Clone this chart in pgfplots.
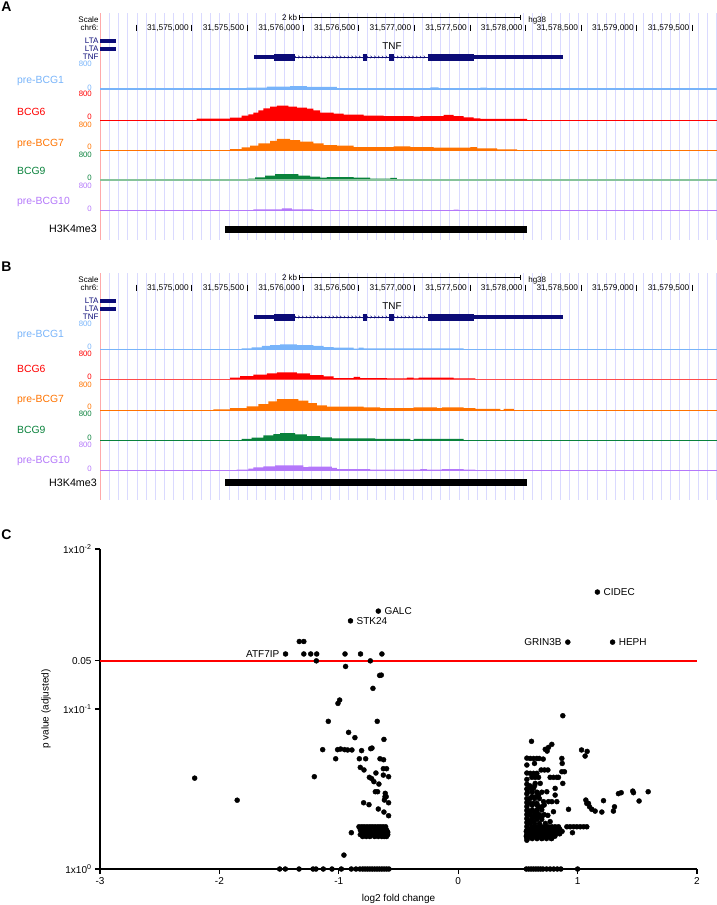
\documentclass[border=0pt]{standalone}
\usepackage{fontspec}
\setmainfont{Liberation Sans}
\usepackage{pgfplots}
\usepackage{pgfplotstable}
\pgfplotsset{compat=1.18}
\usetikzlibrary{decorations.markings}
\newcommand\fs[1]{\fontsize{#1}{#1}\selectfont}

\definecolor{cpre1}{RGB}{120,180,250}
\definecolor{cbcg6}{RGB}{255,0,0}
\definecolor{cpre7}{RGB}{255,115,0}
\definecolor{cbcg9}{RGB}{10,130,60}
\definecolor{cbcg9l}{RGB}{135,195,155}
\definecolor{cpre10}{RGB}{180,120,250}
\definecolor{navy}{RGB}{12,12,120}
\definecolor{guide}{RGB}{218,218,255}
\definecolor{lborder}{RGB}{255,170,170}
\tikzset{lbl/.style={anchor=east, font=\fs{8.3}, inner sep=0pt, xshift=-2.8pt}}

% ---------- panel A signal (bin start in bp - 31,570,000 ; value) ----------
\pgfplotstableread{
x v
5495 49
5675 77
5885 94
6035 66
6305 37
7145 57
7220 37
7595 49
7655 0
}\ApreA
\pgfplotstableread{
x v
5045 37
5345 66
5450 123
5510 163
5555 209
5600 277
5645 334
5705 380
5765 409
5870 380
5945 351
6035 323
6095 277
6155 209
6275 180
6365 151
6545 123
6725 114
6995 94
7055 114
7265 143
7355 114
7445 77
7535 49
7595 29
8015 0
}\AbcgB
\pgfplotstableread{
x v
5345 37
5450 86
5525 134
5600 200
5705 266
5765 323
5885 294
5975 249
6095 200
6185 151
6305 134
6455 94
6815 114
6965 94
7175 77
7505 94
7565 57
7745 29
7925 0
}\ApreC
\pgfplotstableread{
x v
5405 29
5510 49
5570 86
5660 134
5750 180
5960 134
6065 106
6155 77
6215 94
6455 77
6605 49
6785 66
6845 37
7205 20
7295 37
7355 20
7550 0
}\AbcgD
\pgfplotstableread{
x v
5555 37
5810 66
5900 37
6095 20
6695 0
6845 20
7295 0
7355 29
7400 0
}\ApreE
% ---------- panel B signal ----------
\pgfplotstableread{
x v
5450 20
5540 49
5630 86
5705 114
5795 134
5945 114
6095 86
6185 57
6275 37
6455 9
6500 37
6545 20
7445 0
}\BpreA
\pgfplotstableread{
x v
5345 49
5435 94
5555 134
5675 171
5765 200
5945 171
6065 123
6185 86
6275 37
6455 66
6515 37
6755 29
6935 49
6995 29
7040 49
7355 29
7550 0
}\BbcgB
\pgfplotstableread{
x v
5195 20
5345 57
5495 106
5600 171
5690 249
5765 314
5960 266
6050 200
6125 134
6215 94
6545 77
6695 57
6995 77
7205 57
7250 77
7445 57
7550 29
7775 0
7805 29
7895 0
}\BpreC
\pgfplotstableread{
x v
5450 29
5540 66
5645 134
5735 171
5795 200
5930 163
6035 114
6155 77
6260 49
6650 29
6965 0
6995 29
7445 0
}\BbcgD
\pgfplotstableread{
x v
5405 20
5510 49
5555 86
5645 114
5750 143
6005 94
6050 106
6260 66
6305 37
6605 20
7055 37
7115 20
7250 37
7445 20
7550 0
}\BpreE

% ---------- panel C: log2 fold change, -log10(adjusted p) ----------
\pgfplotstableread{
x y
-2.207 0.568
-1.851 0.430
-1.446 1.344
-1.331 1.422
-1.293 1.422
-1.293 1.344
-1.235 1.344
-1.185 1.344
-0.948 1.344
-0.818 1.344
-0.639 1.344
-0.902 1.551
-0.669 1.612
-1.188 1.301
-0.736 1.301
-0.943 1.266
-0.658 1.210
-0.644 1.212
-0.714 1.129
-0.993 1.056
-1.007 1.035
-1.088 0.923
-0.678 0.923
-0.918 0.854
-0.865 0.821
-0.622 0.810
-1.135 0.746
-1.010 0.746
-0.985 0.750
-0.951 0.746
-0.926 0.744
-0.890 0.744
-0.809 0.740
-0.733 0.752
-0.722 0.756
-1.026 0.689
-0.828 0.689
-0.775 0.689
-0.655 0.689
-0.625 0.683
-0.820 0.635
-0.789 0.619
-0.627 0.627
-0.600 0.627
-0.689 0.600
-0.627 0.587
-1.205 0.577
-0.744 0.573
-0.725 0.565
-0.583 0.577
-0.706 0.546
-0.664 0.531
-0.694 0.483
-0.675 0.483
-0.611 0.473
-0.613 0.452
-0.603 0.452
-0.618 0.431
-0.583 0.414
-0.792 0.414
-0.747 0.402
-0.669 0.375
-0.622 0.356
-0.583 0.333
-0.831 0.264
-0.809 0.264
-0.787 0.264
-0.764 0.264
-0.742 0.264
-0.720 0.264
-0.698 0.264
-0.675 0.264
-0.653 0.264
-0.631 0.264
-0.608 0.264
-0.82 0.245
-0.80 0.245
-0.77 0.245
-0.74 0.245
-0.70 0.245
-0.66 0.245
-0.63 0.245
-0.60 0.245
-0.81 0.230
-0.79 0.230
-0.76 0.230
-0.73 0.230
-0.69 0.230
-0.67 0.230
-0.65 0.230
-0.62 0.230
-0.59 0.230
-0.82 0.215
-0.80 0.215
-0.78 0.215
-0.75 0.215
-0.72 0.215
-0.68 0.215
-0.66 0.215
-0.64 0.215
-0.61 0.215
-0.59 0.215
-0.80 0.203
-0.77 0.203
-0.74 0.203
-0.70 0.203
-0.67 0.203
-0.64 0.203
-0.62 0.203
-0.60 0.203
-0.895 0.227
-0.957 0.087
-1.495 0
-1.448 0
-1.333 0
-1.216 0
-1.191 0
-1.130 0
-1.057 0
-0.979 0
-0.895 0
-0.856 0
-0.823 0
-0.80 0
-0.78 0
-0.76 0
-0.74 0
-0.72 0
-0.70 0
-0.68 0
-0.66 0
-0.64 0
-0.62 0
-0.60 0
-0.58 0
1.166 1.731
0.918 1.418
1.293 1.418
0.876 0.958
0.614 0.798
0.784 0.779
0.756 0.760
0.729 0.748
0.745 0.737
1.033 0.744
1.080 0.735
1.063 0.706
0.868 0.691
0.871 0.660
0.603 0.691
0.631 0.691
0.659 0.691
0.678 0.691
0.712 0.687
0.639 0.660
0.695 0.619
0.723 0.619
0.751 0.619
0.868 0.608
0.890 0.608
0.603 0.598
0.631 0.598
0.659 0.598
0.617 0.573
0.645 0.573
0.673 0.573
0.770 0.573
0.798 0.573
0.826 0.573
0.840 0.573
0.876 0.535
0.645 0.535
0.687 0.535
0.603 0.504
0.631 0.504
0.812 0.504
0.742 0.483
1.342 0.471
1.365 0.477
1.462 0.487
1.468 0.477
1.591 0.483
0.673 0.462
0.812 0.462
0.617 0.452
0.650 0.452
1.069 0.431
1.217 0.427
1.515 0.425
0.715 0.421
0.756 0.421
0.784 0.421
0.826 0.421
1.077 0.410
1.091 0.410
0.603 0.410
0.631 0.410
0.659 0.410
1.100 0.389
1.309 0.389
0.673 0.389
0.701 0.389
0.924 0.373
1.119 0.373
1.147 0.362
1.300 0.362
1.203 0.356
0.798 0.358
0.603 0.358
0.631 0.358
0.659 0.358
0.751 0.335
0.617 0.327
0.645 0.327
0.673 0.327
0.701 0.327
0.770 0.296
0.603 0.296
0.631 0.296
0.617 0.264
0.645 0.264
0.673 0.264
0.701 0.264
0.729 0.264
0.756 0.264
0.784 0.264
0.812 0.264
0.840 0.264
0.910 0.264
0.938 0.264
0.966 0.264
0.994 0.264
1.022 0.264
1.050 0.264
1.077 0.264
0.957 0.227
0.701 0.192
0.784 0.192
0.575 0.693
0.575 0.650
0.575 0.600
0.575 0.560
0.575 0.530
0.575 0.500
0.575 0.470
0.575 0.440
0.575 0.415
0.575 0.390
0.575 0.365
0.575 0.340
0.575 0.315
0.575 0.290
0.575 0.265
0.575 0.240
0.575 0.215
0.575 0.195
0.575 0.180
0.58 0.250
0.61 0.250
0.64 0.250
0.67 0.250
0.70 0.250
0.73 0.250
0.76 0.250
0.79 0.250
0.82 0.250
0.85 0.250
0.57 0.235
0.60 0.235
0.63 0.235
0.66 0.235
0.69 0.235
0.72 0.235
0.75 0.235
0.78 0.235
0.81 0.235
0.84 0.235
0.87 0.235
0.58 0.220
0.61 0.220
0.64 0.220
0.67 0.220
0.70 0.220
0.73 0.220
0.76 0.220
0.79 0.220
0.82 0.220
0.85 0.220
0.57 0.205
0.60 0.205
0.63 0.205
0.66 0.205
0.69 0.205
0.72 0.205
0.75 0.205
0.78 0.205
0.81 0.205
0.58 0.190
0.62 0.190
0.66 0.190
0.70 0.190
0.74 0.190
0.78 0.190
0.60 0.520
0.64 0.520
0.58 0.480
0.62 0.480
0.66 0.480
0.70 0.480
0.60 0.440
0.64 0.440
0.68 0.440
0.62 0.400
0.66 0.400
0.72 0.400
0.58 0.370
0.62 0.370
0.66 0.370
0.70 0.370
0.60 0.340
0.64 0.340
0.68 0.340
0.72 0.340
0.58 0.310
0.62 0.310
0.66 0.310
0.70 0.310
0.60 0.285
0.64 0.285
0.68 0.285
0.73 0.285
0.57 0
0.59 0
0.61 0
0.63 0
0.65 0
0.67 0
0.69 0
0.71 0
0.74 0
0.77 0
0.80 0
0.83 0
0.86 0
1.00 0
}\volc

\pgfplotsset{
  trk/.style={anchor=south west, width=617pt, height=28pt, scale only axis,
    xmin=4176, xmax=9722, ymin=0, ymax=800, hide axis, clip=false},
}

% #1 baseline y, #2 colour, #3 label, #4 table, #5 label y, #6 "800" y, #7 "0" y, #8 baseline style
\newcommand\track[8]{%
  \begin{axis}[trk, at={(100pt,-#1pt)}]
    \addplot[const plot, fill=#2, draw=none] table[x=x,y=v] {#4} \closedcycle;
    \addplot[#8] coordinates {(4176,0) (9722,0)};
  \end{axis}
  \node[anchor=west, text=#2, font=\fs{10.4}, inner sep=0pt] at (17pt,-#5pt) {#3};
  \node[anchor=east, text=#2, font=\fs{7.8}, inner sep=0pt] at (92pt,-#6pt) {800};
  \node[anchor=east, text=#2, font=\fs{7.8}, inner sep=0pt] at (92pt,-#7pt) {0};
}

% #1 vertical offset of the panel, #2 panel letter, #3 y of the H3K4me3 row (panel-relative)
\newcommand\browserhead[3]{%
  \node[font=\fs{14}\bfseries, inner sep=0pt] at (6.5pt,{-(#1+6.7)*1pt}) {#2};
  \begin{axis}[at={(100pt,{-(#1+240)*1pt})}, anchor=south west, width=617pt, height=227pt,
      scale only axis, xmin=4176, xmax=9722, ymin=13, ymax=240, y dir=reverse,
      axis line style={draw=none}, xtick={4176,4258.7,...,9722}, xticklabels={},
      ytick=\empty, major tick length=0pt, xmajorgrids,
      grid style={guide, line width=0.6pt}, clip=false]
    \addplot[lborder, line width=0.8pt] coordinates {(4176,13) (4176,240)};
    % scale bar
    \addplot[black, line width=0.6pt] coordinates {(5965,17.3) (7954,17.3)};
    \addplot[black, line width=0.6pt] coordinates {(5965,14.6) (5965,20)};
    \addplot[black, line width=0.6pt] coordinates {(7954,14.6) (7954,20)};
    \node[anchor=east, font=\fs{8}, inner sep=0pt] at (axis cs:5950,17.3) {2 kb};
    \node[anchor=west, font=\fs{8}, inner sep=0pt] at (axis cs:8024,20.6) {hg38};
    \node[anchor=east, font=\fs{8}, inner sep=0pt] at (axis cs:4164,20) {Scale};
    \node[anchor=east, font=\fs{8}, inner sep=0pt] at (axis cs:4164,28) {chr6:};
    \pgfplotsinvokeforeach{4500,5000,...,9500}{\draw[black, line width=0.6pt] (axis cs:##1,24.5) -- (axis cs:##1,31);}
    \node[lbl] at (axis cs:5000,28) {31,575,000};
    \node[lbl] at (axis cs:5500,28) {31,575,500};
    \node[lbl] at (axis cs:6000,28) {31,576,000};
    \node[lbl] at (axis cs:6500,28) {31,576,500};
    \node[lbl] at (axis cs:7000,28) {31,577,000};
    \node[lbl] at (axis cs:7500,28) {31,577,500};
    \node[lbl] at (axis cs:8000,28) {31,578,000};
    \node[lbl] at (axis cs:8500,28) {31,578,500};
    \node[lbl] at (axis cs:9000,28) {31,579,000};
    \node[lbl] at (axis cs:9500,28) {31,579,500};
    % genes
    \addplot[navy, line width=4pt] coordinates {(4176,41) (4324,41)};
    \addplot[navy, line width=4pt] coordinates {(4176,49) (4324,49)};
    \node[anchor=east, text=navy, font=\fs{8}, inner sep=0pt] at (axis cs:4164,41) {LTA};
    \node[anchor=east, text=navy, font=\fs{8}, inner sep=0pt] at (axis cs:4164,49) {LTA};
    \node[anchor=east, text=navy, font=\fs{8}, inner sep=0pt] at (axis cs:4164,57) {TNF};
    \addplot[navy, line width=0.7pt, postaction={decorate},
      decoration={markings, mark=between positions 0.005 and 1 step 3.8pt with
        {\draw[navy, line width=0.5pt] (-0.9pt,1.3pt) -- (0.3pt,0pt) -- (-0.9pt,-1.3pt);}}]
      coordinates {(5926,57) (7122,57)};
    \addplot[navy, line width=4.5pt] coordinates {(5563,57) (5740,57)};
    \addplot[navy, line width=7pt] coordinates {(5740,57) (5926,57)};
    \addplot[navy, line width=7pt] coordinates {(6538,57) (6574,57)};
    \addplot[navy, line width=7pt] coordinates {(6774,57) (6819,57)};
    \addplot[navy, line width=7pt] coordinates {(7122,57) (7541,57)};
    \addplot[navy, line width=4.5pt] coordinates {(7541,57) (8336,57)};
    \node[font=\fs{9.9}, inner sep=0pt] at (axis cs:6801,45.7) {TNF};
    % H3K4me3
    \addplot[black, line width=7pt] coordinates {(5300,#3) (8015,#3)};
    \node[anchor=east, font=\fs{10.7}, inner sep=0pt] at (axis cs:4149,#3) {H3K4me3};
  \end{axis}
}

\begin{document}
\begin{tikzpicture}
\path[use as bounding box] (0,0) rectangle (717pt,-905pt);

% ================= Panel A =================
\browserhead{0}{A}{229}
\track{89.3}{cpre1}{pre-BCG1}{\ApreA}{80.7}{64.3}{87.7}{cpre1, line width=2.3pt}
\track{120}{cbcg6}{BCG6}{\AbcgB}{111.7}{94.3}{117.3}{cbcg6, line width=0.8pt}
\track{150.3}{cpre7}{pre-BCG7}{\ApreC}{144.3}{125}{147.3}{cpre7, line width=0.8pt}
\track{180.3}{cbcg9}{BCG9}{\AbcgD}{171}{155}{178}{cbcg9l, line width=1.8pt}
\track{210.7}{cpre10}{pre-BCG10}{\ApreE}{201.7}{186}{208.7}{cpre10, line width=0.8pt}

% ================= Panel B =================
\browserhead{260}{B}{222.4}
\track{349}{cpre1}{pre-BCG1}{\BpreA}{335.3}{324}{346.7}{cpre1, line width=0.8pt}
\track{379.3}{cbcg6}{BCG6}{\BbcgB}{369}{354.3}{376.7}{cbcg6!70, line width=1.2pt}
\track{410}{cpre7}{pre-BCG7}{\BpreC}{400}{385}{406.7}{cpre7, line width=0.8pt}
\track{440}{cbcg9}{BCG9}{\BbcgD}{430}{414}{438}{cbcg9, line width=0.8pt}
\track{470.3}{cpre10}{pre-BCG10}{\BpreE}{461}{445}{469}{cpre10, line width=0.8pt}

% ================= Panel C =================
\node[font=\fs{14}\bfseries, inner sep=0pt] at (6.5pt,-535pt) {C};
\begin{axis}[at={(100pt,-869pt)}, anchor=south west, scale only axis,
    width=597pt, height=320pt, xmin=-3, xmax=2, ymin=0, ymax=2,
    axis x line*=bottom, axis y line*=left,
    axis line style={line width=1.8pt, black},
    every tick/.style={black, line width=1.3pt},
    tick align=outside, major tick length=5pt,
    xtick={-3,-2,-1,0,1,2}, xticklabels={-3,-2,-1,0,1,2},
    ytick={0,1,1.30103,2},
    yticklabels={1x10\textsuperscript{0},1x10\textsuperscript{-1},0.05,1x10\textsuperscript{-2}},
    tick label style={font=\fs{10}},
    xlabel={log2 fold change}, ylabel={p value (adjusted)},
    xlabel style={font=\fs{10}, at={(axis description cs:0.5,-0.094)}, anchor=center},
    ylabel style={font=\fs{10}, at={(axis description cs:-0.0905,0.5)}, anchor=center},
    clip=false]
  \addplot[red, line width=2pt] coordinates {(-3,1.30103) (2,1.30103)};
  \addplot[only marks, mark=*, mark size=2.5pt, black] table[x=x,y=y] {\volc};
  \node[anchor=west, font=\fs{10}, inner sep=0pt, xshift=6pt] at (axis cs:1.166,1.731) {CIDEC};
  \node[anchor=west, font=\fs{10}, inner sep=0pt, xshift=6pt] at (axis cs:-0.669,1.612) {GALC};
  \node[anchor=west, font=\fs{10}, inner sep=0pt, xshift=6pt] at (axis cs:-0.902,1.551) {STK24};
  \node[anchor=west, font=\fs{10}, inner sep=0pt, xshift=6pt] at (axis cs:1.293,1.418) {HEPH};
  \node[anchor=east, font=\fs{10}, inner sep=0pt, xshift=-6pt] at (axis cs:0.918,1.418) {GRIN3B};
  \node[anchor=east, font=\fs{10}, inner sep=0pt, xshift=-6pt] at (axis cs:-1.446,1.344) {ATF7IP};
\end{axis}
\end{tikzpicture}
\end{document}
